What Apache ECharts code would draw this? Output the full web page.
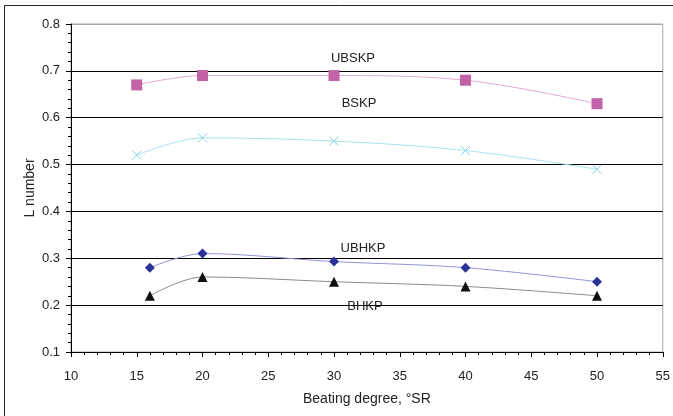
<!DOCTYPE html>
<html><head><meta charset="utf-8">
<script src="https://cdn.jsdelivr.net/npm/echarts@6/dist/echarts.min.js"></script>
<style>html,body{margin:0;padding:0;background:#fff}#c{width:673px;height:416px}</style>
</head><body><div id="c"></div>
<script>
const xTicks = [10, 15, 20, 25, 30, 35, 40, 45, 50, 55];
const yTicks = [0.1, 0.2, 0.3, 0.4, 0.5, 0.6, 0.7, 0.8];
const seriesNames = ['UBSKP', 'BSKP', 'UBHKP', 'BHKP'];
const ubskpX = [15, 20, 30, 40, 50];
const ubskpY = [0.67, 0.69, 0.69, 0.68, 0.63];
const bskpX = [15, 20, 30, 40, 50];
const bskpY = [0.52, 0.557, 0.55, 0.53, 0.49];
const ubhkpX = [16, 20, 30, 40, 50];
const ubhkpY = [0.28, 0.31, 0.293, 0.28, 0.25];
const bhkpX = [16, 20, 30, 40, 50];
const bhkpY = [0.22, 0.26, 0.25, 0.24, 0.22];

const pair = (xs, ys) => xs.map((x, i) => [x, ys[i]]);
const font = 'Liberation Sans, Arial, sans-serif';
const chart = echarts.init(document.getElementById('c'));
function mk(name, data, symbol, size, mColor, lColor, extra) {
  return Object.assign({
    name, type: 'line', data, smooth: 0.35, symbol, symbolSize: size,
    lineStyle: { width: 1, color: lColor },
    itemStyle: { color: mColor },
    emphasis: { disabled: true }, animation: false, z: 3
  }, extra || {});
}
chart.setOption({
  animation: false,
  grid: { left: 71, right: 8, top: 24, bottom: 64, show: true, borderColor: '#a8a8a8', borderWidth: 1 },
  xAxis: {
    type: 'value', min: xTicks[0], max: xTicks[xTicks.length - 1], interval: 5,
    name: 'Beating degree, °SR', nameLocation: 'middle', nameGap: 40, nameMoveOverlap: false,
    nameTextStyle: { fontFamily: font, fontSize: 14, color: '#222' },
    axisLine: { show: true, lineStyle: { color: '#000', width: 1 } },
    axisTick: { show: true, inside: false, length: 5, lineStyle: { color: '#000' } },
    minorTick: { show: true, splitNumber: 5, length: 3, lineStyle: { color: '#000' } },
    axisLabel: { fontFamily: font, fontSize: 13, color: '#222', margin: 18 },
    splitLine: { show: false }
  },
  yAxis: {
    type: 'value', min: yTicks[0], max: yTicks[yTicks.length - 1], interval: 0.1,
    name: 'L number', nameLocation: 'middle', nameGap: 34, nameRotate: 90, nameMoveOverlap: false,
    nameTextStyle: { fontFamily: font, fontSize: 14, color: '#222' },
    axisLine: { show: true, lineStyle: { color: '#000', width: 1 } },
    axisTick: { show: true, inside: false, length: 5, lineStyle: { color: '#000' } },
    minorTick: { show: true, splitNumber: 5, length: 3, lineStyle: { color: '#000' } },
    axisLabel: { fontFamily: font, fontSize: 13, color: '#222', margin: 11, formatter: v => v.toFixed(1) },
    splitLine: { show: true, lineStyle: { color: ['#000', '#000', '#000', '#000', '#000', '#000', '#000', '#a8a8a8'], width: 1 } }
  },
  series: [
    mk(seriesNames[0], pair(ubskpX, ubskpY), 'rect', 11, '#c462a8', '#e3a9d2'),
    mk(seriesNames[1], pair(bskpX, bskpY), 'path://M0,0 L10,10 M10,0 L0,10', 9, 'none', '#a9e2ee',
       { itemStyle: { color: 'none', borderColor: '#7fd2e4', borderWidth: 1 } }),
    mk(seriesNames[2], pair(ubhkpX, ubhkpY), 'diamond', 10, '#2b3399', '#8e95d6'),
    mk(seriesNames[3], pair(bhkpX, bhkpY), 'triangle', 10, '#111', '#8a8a8a')
  ],
  graphic: [
    { type: 'rect', shape: { x: 4.5, y: 5.5, width: 700, height: 430 }, style: { fill: 'none', stroke: '#222', lineWidth: 1 }, z: 0 },
    { type: 'text', x: 353, y: 58, style: { text: seriesNames[0], font: '13px ' + font, fill: '#222', align: 'center', verticalAlign: 'middle' }, z: 10 },
    { type: 'text', x: 359, y: 103, style: { text: seriesNames[1], font: '13px ' + font, fill: '#222', align: 'center', verticalAlign: 'middle' }, z: 10 },
    { type: 'text', x: 363, y: 248, style: { text: seriesNames[2], font: '13px ' + font, fill: '#222', align: 'center', verticalAlign: 'middle' }, z: 10 },
    { type: 'text', x: 365, y: 306, style: { text: seriesNames[3], font: '13px ' + font, fill: '#222', align: 'center', verticalAlign: 'middle' }, z: 10 }
  ]
});
</script></body></html>
